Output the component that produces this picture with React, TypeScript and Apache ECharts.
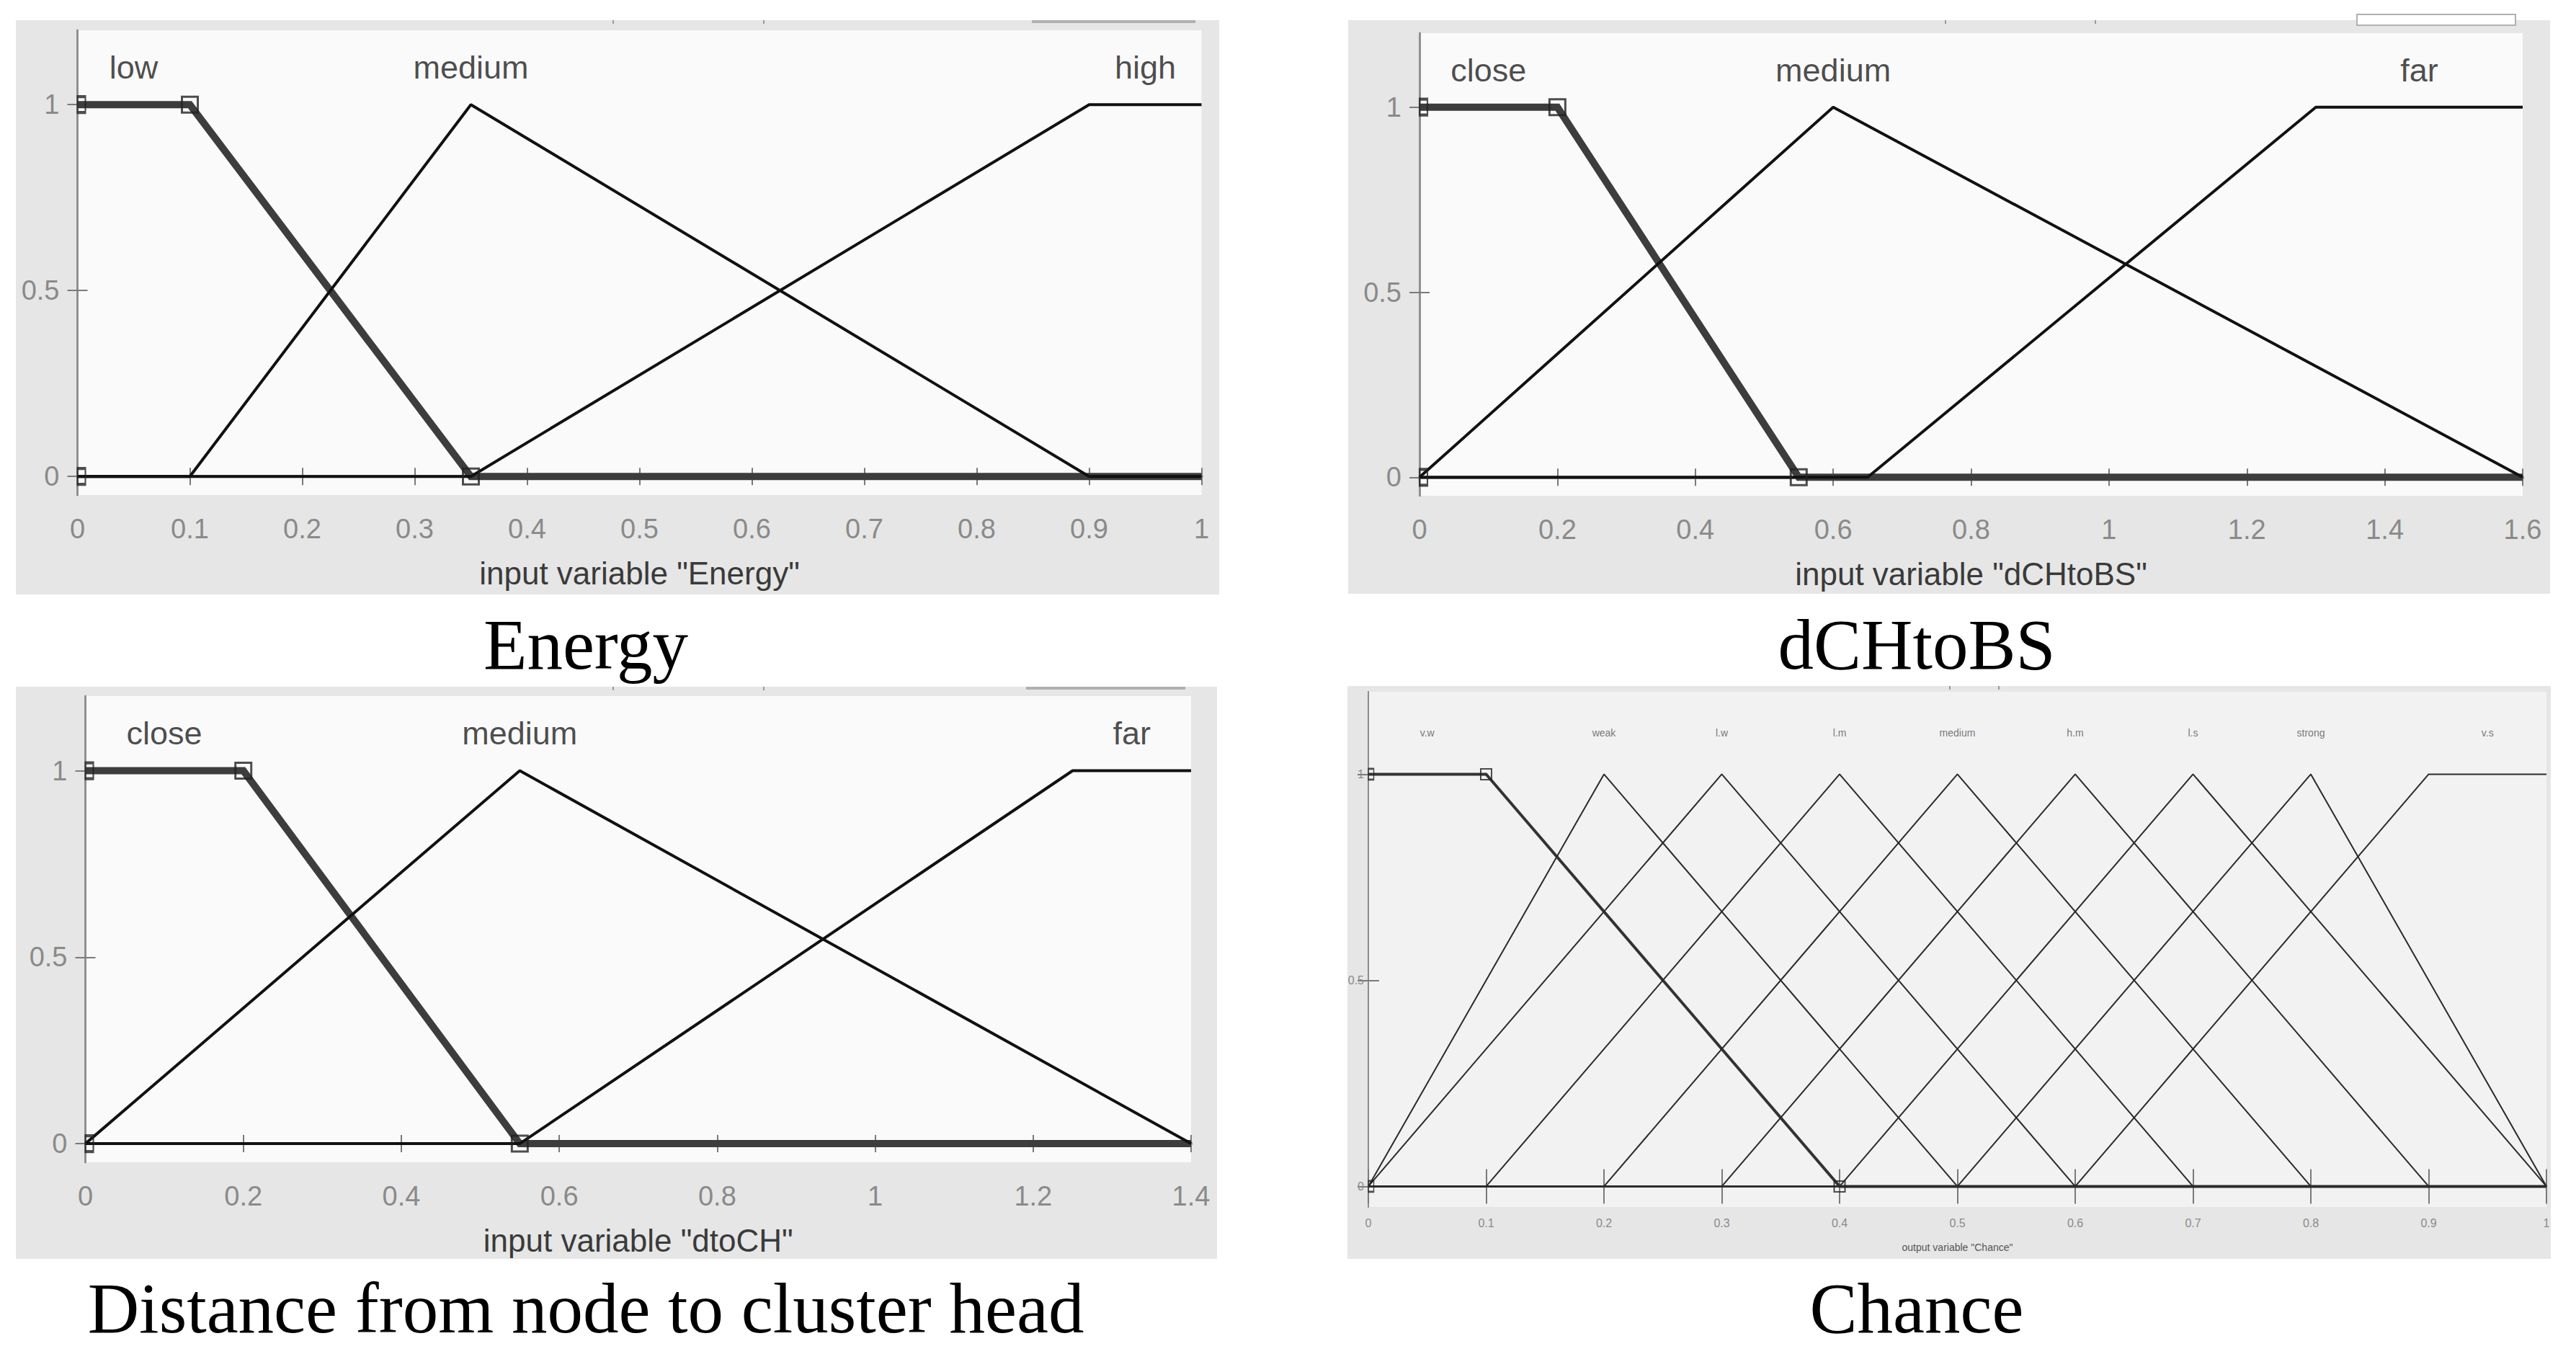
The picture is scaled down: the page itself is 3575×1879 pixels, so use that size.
import React, { useEffect, useRef } from "react";
import * as echarts from "echarts";

// ---------------- DATA ----------------
const energyNames = ["low", "medium", "high"];
const energyParams = [
  [0, 0, 0.1, 0.35],
  [0.1, 0.35, 0.9],
  [0.35, 0.9, 1, 1],
];
const dchNames = ["close", "medium", "far"];
const dchParams = [
  [0, 0, 0.2, 0.55],
  [0, 0.6, 1.6],
  [0.65, 1.3, 1.6, 1.6],
];
const dtoNames = ["close", "medium", "far"];
const dtoParams = [
  [0, 0, 0.2, 0.55],
  [0, 0.55, 1.4],
  [0.55, 1.25, 1.4, 1.4],
];
const chanceNames = ["v.w", "weak", "l.w", "l.m", "medium", "h.m", "l.s", "strong", "v.s"];
const chanceParams = [
  [0, 0, 0.1, 0.4],
  [0, 0.2, 0.5],
  [0, 0.3, 0.6],
  [0.1, 0.4, 0.7],
  [0.2, 0.5, 0.8],
  [0.3, 0.6, 0.9],
  [0.4, 0.7, 1.0],
  [0.5, 0.8, 1.0],
  [0.6, 0.9, 1, 1],
];
const xRanges = [
  [0, 1, 0.1],
  [0, 1.6, 0.2],
  [0, 1.4, 0.2],
  [0, 1, 0.1],
];
const yTickValues = [0, 0.5, 1];
const yRange = [-0.05, 1.2];
const labelLevel = 1.1;
const axisTitles = [
  'input variable "Energy"',
  'input variable "dCHtoBS"',
  'input variable "dtoCH"',
  'output variable "Chance"',
];
const captions = ["Energy", "dCHtoBS", "Distance from node to cluster head", "Chance"];
const selectedIndex = [0, 0, 0, 0];

// ---------------- LAYOUT / STYLE ----------------
const big = {
  labelFont: 45, tickFont: 38, nameFont: 44, nameGap: 86, xLabelMargin: 28, yLabelMargin: 25,
  tickLenX: 12, tickLenY: 14, lineW: 4, selW: 10, markerSize: 22, markerBorder: 3,
  plotBg: "#fafafa", labelColor: "#1e1e1e", tickColor: "#8a8a8a", nameColor: "#3a3a3a",
  lineColor: "#111111", selColor: "#3d3d3d", borderTB: 4, borderLR: 2.5,
};
const small = {
  labelFont: 14, tickFont: 16, nameFont: 14, nameGap: 49, xLabelMargin: 14, yLabelMargin: 6,
  tickLenX: 24, tickLenY: 15, lineW: 2, selW: 4, markerSize: 15, markerBorder: 2,
  plotBg: "#f2f2f2", labelColor: "#555555", tickColor: "#8a8a8a", nameColor: "#555555",
  lineColor: "#2a2a2a", selColor: "#333333", borderTB: 2.5, borderLR: 2,
};

const panels = [
  { names: energyNames, params: energyParams, grid: { left: 107.5, top: 42, width: 1560, height: 645 }, outer: [22, 28, 1670, 797], caption: [813, 894], st: big },
  { names: dchNames, params: dchParams, grid: { left: 1970, top: 46, width: 1531, height: 642 }, outer: [1871, 28, 1668, 796], caption: [2660, 894], st: big },
  { names: dtoNames, params: dtoParams, grid: { left: 118.5, top: 966, width: 1534.5, height: 647 }, outer: [22, 953, 1667, 794], caption: [813, 1815], st: big },
  { names: chanceNames, params: chanceParams, grid: { left: 1899, top: 960, width: 1635, height: 715 }, outer: [1870, 952, 1670, 795], caption: [2660, 1815], st: small },
];

const FONT = "'Liberation Sans', Arial, Helvetica, sans-serif";
const SERIF = "'Liberation Serif', 'Times New Roman', serif";

// membership value (trimf / trapmf, as in MATLAB)
function mfValue(p: number[], x: number): number {
  if (p.length === 3) {
    const [a, b, c] = p;
    if (x < a || x > c) return 0;
    if (x <= b) return a === b ? 1 : (x - a) / (b - a);
    return b === c ? 1 : (c - x) / (c - b);
  }
  const [a, b, c, d] = p;
  const y1 = x < a ? 0 : x >= b ? 1 : (x - a) / (b - a);
  const y2 = x > d ? 0 : x <= c ? 1 : (d - x) / (d - c);
  return Math.min(y1, y2);
}
function mfPoints(p: number[], xmin: number, xmax: number): number[][] {
  const xs = Array.from(new Set([xmin, ...p, xmax]))
    .filter((x) => x >= xmin && x <= xmax)
    .sort((u, v) => u - v);
  return xs.map((x) => [x, mfValue(p, x)]);
}
function mfVertices(p: number[]): number[][] {
  if (p.length === 3) return [[p[0], 0], [p[1], 1], [p[2], 0]];
  return [[p[0], 0], [p[1], 1], [p[2], 1], [p[3], 0]];
}
function mfCenter(p: number[]): number {
  return p.length === 3 ? p[1] : (p[1] + p[2]) / 2;
}

function buildOption() {
  const grid: any[] = [];
  const xAxis: any[] = [];
  const yAxis: any[] = [];
  const series: any[] = [];
  const graphic: any[] = [];

  panels.forEach((pn, i) => {
    const st = pn.st;
    const [xmin, xmax, xint] = xRanges[i];
    grid.push({ ...pn.grid, containLabel: false, show: false });
    const [ox, oy, ow, oh] = pn.outer;
    graphic.push({ type: "rect", z: -20, shape: { x: ox, y: oy, width: ow, height: oh }, style: { fill: "#e6e6e6" }, silent: true });
    graphic.push({ type: "rect", z: -19, shape: { x: pn.grid.left, y: pn.grid.top, width: pn.grid.width, height: pn.grid.height }, style: { fill: st.plotBg }, silent: true });

    const axisLineTB = { show: true, lineStyle: { color: "#808080", width: st.borderTB } };
    const axisLineLR = { show: true, lineStyle: { color: "#8c8c8c", width: st.borderLR } };
    xAxis.push({
      type: "value", gridIndex: i, position: "bottom", min: xmin, max: xmax, interval: xint,
      axisLine: axisLineTB, splitLine: { show: false },
      axisTick: { show: true, inside: true, length: st.tickLenX, lineStyle: { color: "#7a7a7a", width: 2 } },
      axisLabel: { show: true, margin: st.xLabelMargin, fontSize: st.tickFont, color: st.tickColor, fontFamily: FONT },
      name: axisTitles[i], nameLocation: "middle", nameGap: st.nameGap,
      nameTextStyle: { fontSize: st.nameFont, color: st.nameColor, fontFamily: FONT },
    });
    xAxis.push({
      type: "value", gridIndex: i, position: "top", min: xmin, max: xmax, interval: xint,
      axisLine: axisLineTB, splitLine: { show: false },
      axisTick: { show: true, inside: true, length: st.tickLenX, lineStyle: { color: "#7a7a7a", width: 2 } },
      axisLabel: { show: false },
    });
    yAxis.push({
      type: "value", gridIndex: i, position: "left", min: yRange[0], max: yRange[1],
      axisLine: axisLineLR, splitLine: { show: false },
      axisTick: { show: true, inside: true, length: st.tickLenY, customValues: yTickValues, lineStyle: { color: "#7a7a7a", width: 2 } },
      axisLabel: { show: true, customValues: yTickValues, margin: st.yLabelMargin, fontSize: st.tickFont, color: st.tickColor, fontFamily: FONT },
    });
    yAxis.push({
      type: "value", gridIndex: i, position: "right", min: yRange[0], max: yRange[1],
      axisLine: axisLineLR, splitLine: { show: false },
      axisTick: { show: true, inside: true, length: st.tickLenY, customValues: yTickValues, lineStyle: { color: "#7a7a7a", width: 2 } },
      axisLabel: { show: false, customValues: yTickValues },
    });

    const sel = selectedIndex[i];
    // selected MF (drawn first, underneath)
    series.push({
      type: "line", xAxisIndex: 2 * i, yAxisIndex: 2 * i, silent: true, symbol: "none", z: 2,
      data: mfPoints(pn.params[sel], xmin, xmax),
      lineStyle: { width: st.selW, color: st.selColor, join: "miter" },
    });
    pn.params.forEach((p, k) => {
      if (k === sel) return;
      series.push({
        type: "line", xAxisIndex: 2 * i, yAxisIndex: 2 * i, silent: true, symbol: "none", z: 3,
        data: mfPoints(p, xmin, xmax),
        lineStyle: { width: st.lineW, color: st.lineColor },
      });
    });
    // vertex markers of the selected MF
    const verts = mfVertices(pn.params[sel]).map((v) => {
      const atEdge = v[0] === xmin;
      return {
        value: v,
        symbolSize: atEdge ? [st.markerSize / 2, st.markerSize] : st.markerSize,
        symbolOffset: atEdge ? [st.markerSize / 4, 0] : [0, 0],
      };
    });
    series.push({
      type: "scatter", xAxisIndex: 2 * i, yAxisIndex: 2 * i, silent: true, z: 5,
      symbol: "rect", data: verts,
      itemStyle: { color: "rgba(0,0,0,0)", borderColor: "#222222", borderWidth: st.markerBorder },
    });
    // MF names
    series.push({
      type: "scatter", xAxisIndex: 2 * i, yAxisIndex: 2 * i, silent: true, z: 6,
      symbolSize: 1, itemStyle: { color: "rgba(0,0,0,0)" },
      data: pn.names.map((n, k) => ({ name: n, value: [mfCenter(pn.params[k]), labelLevel] })),
      label: { show: true, position: "inside", formatter: "{b}", fontSize: st.labelFont, color: st.labelColor, fontFamily: FONT },
    });

    graphic.push({
      type: "text", z: 10, x: pn.caption[0], y: pn.caption[1],
      style: { text: captions[i], fontSize: 99, fontFamily: SERIF, fill: "#000", align: "center", verticalAlign: "middle" },
      silent: true,
    });
  });

  // GUI remnants at the top of the panels
  graphic.push({ type: "rect", z: -5, shape: { x: 1432, y: 28, width: 227, height: 4 }, style: { fill: "#b0b0b0" }, silent: true });
  graphic.push({ type: "rect", z: -5, shape: { x: 1424, y: 953, width: 221, height: 4 }, style: { fill: "#b0b0b0" }, silent: true });
  graphic.push({ type: "rect", z: -5, shape: { x: 3271, y: 20, width: 220, height: 15 }, style: { fill: "#ffffff", stroke: "#b0b0b0", lineWidth: 2 }, silent: true });
  [[850, 28], [1059, 28], [2699, 28], [2907, 28], [850, 953], [1059, 953], [2705, 952], [2773, 952]].forEach(([x, y]) => {
    graphic.push({ type: "rect", z: -5, shape: { x, y, width: 2, height: 5 }, style: { fill: "#9a9a9a" }, silent: true });
  });

  return { animation: false, backgroundColor: "#ffffff", grid, xAxis, yAxis, series, graphic };
}

export default function App() {
  const ref = useRef<HTMLDivElement>(null);
  useEffect(() => {
    if (!ref.current) return;
    const chart = echarts.init(ref.current, undefined, { renderer: "svg" });
    chart.setOption(buildOption() as any);
    return () => chart.dispose();
  }, []);
  return (
    <div
      ref={ref}
      style={{ position: "fixed", left: 0, top: 0, width: 3575, height: 1879, background: "#ffffff" }}
    />
  );
}
